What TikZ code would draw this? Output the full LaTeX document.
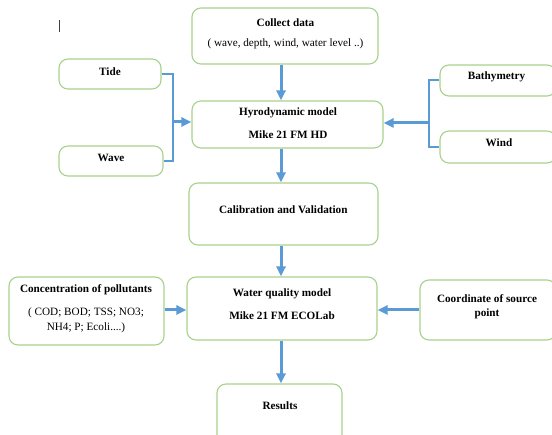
\documentclass[tikz,border=0pt]{standalone}
\usepackage{fontspec}
\setmainfont{Liberation Serif}
\usetikzlibrary{arrows.meta}
\definecolor{boxgreen}{HTML}{A9D18E}
\definecolor{arrowblue}{HTML}{5B9BD5}
\begin{document}
\begin{tikzpicture}[x=1pt,y=-1pt,
  box/.style={draw=boxgreen, line width=1.1pt, rounded corners=9pt, inner sep=0pt},
  lbl/.style={font=\fontsize{11.2}{14.5}\selectfont\bfseries, align=center, inner sep=0pt},
  sub/.style={font=\fontsize{11.2}{15}\selectfont, align=center, inner sep=0pt},
  flow/.style={draw=arrowblue, line width=3pt, -{Triangle[length=10pt,width=9pt]}},
  link/.style={draw=arrowblue, line width=2pt},
]
\clip (0,0) rectangle (552,435);
\fill[white] (0,0) rectangle (552,435);

% boxes
\node[box, minimum width=186pt, minimum height=56pt] (collect) at (285,36) {};
\node[box, minimum width=102pt, minimum height=30pt] (tide) at (110,74) {};
\node[box, minimum width=104pt, minimum height=30pt] (wave) at (111,161) {};
\node[box, minimum width=191pt, minimum height=47pt] (hydro) at (287.5,124.5) {};
\node[box, minimum width=116pt, minimum height=31pt] (bathy) at (498,80.5) {};
\node[box, minimum width=116pt, minimum height=32pt] (wind) at (498,147) {};
\node[box, minimum width=189pt, minimum height=62pt] (calib) at (283.5,214) {};
\node[box, minimum width=155pt, minimum height=68pt] (conc) at (86.5,311) {};
\node[box, minimum width=190pt, minimum height=63pt] (wq) at (282,308.5) {};
\node[box, minimum width=136pt, minimum height=60pt] (coord) at (488,310) {};
\node[box, minimum width=125pt, minimum height=61pt] (results) at (279.5,414.5) {};

% texts
\node[lbl] (tcollect) at (285.5,23) {Collect data};
\node[sub] (scollect) at (285.5,44) {( wave, depth, wind, water level ..)};
\node[lbl] (ttide) at (110,72) {Tide};
\node[lbl] (twave) at (111,158) {Wave};
\node[lbl] (thydro) at (288,113) {Hyrodynamic model};
\node[lbl] (shydro) at (288,135) {Mike 21 FM HD};
\node[lbl] (tbathy) at (496.5,77) {Bathymetry};
\node[lbl] (twind) at (499,143) {Wind};
\node[lbl] (tcalib) at (283.3,210) {Calibration and Validation};
\node[lbl] (tconc) at (86,290) {Concentration of pollutants};
\node[sub] (sconc) at (86,320.5) {( COD; BOD; TSS; NO3;\\NH4; P; Ecoli....)};
\node[lbl] (twq) at (282,294) {Water quality model};
\node[lbl] (swq) at (282,316) {Mike 21 FM ECOLab};
\node[lbl] (tcoord) at (487,307) {Coordinate of source\\point};
\node[lbl] (tresults) at (280,406) {Results};

% connector helpers
\coordinate (ax) at (281,0);
\coordinate (lb) at (173,122);
\coordinate (rb) at (428.5,123);

% main vertical flow
\draw[flow] (collect.south -| ax) -- (hydro.north -| ax);
\draw[flow] (hydro.south -| ax) -- (calib.north -| ax);
\draw[flow] (calib.south -| ax) -- (wq.north -| ax);
\draw[flow] (wq.south -| ax) -- (results.north -| ax);

% left bracket
\draw[link] (tide.east) -| (lb) |- (wave.east);
\draw[flow] (lb) -- (hydro.west |- lb);

% right bracket
\draw[link] (bathy.west) -| (rb) |- (wind.west);
\draw[flow] (rb) -- (hydro.east |- rb);

% side inputs to water quality model
\draw[flow] (conc.east |- 0,310) -- (wq.west |- 0,310);
\draw[flow] (coord.west |- 0,310) -- (wq.east |- 0,310);

% text cursor mark
\draw[line width=0.9pt, draw=black!75] (59.5,20) -- (59.5,32.5);
\end{tikzpicture}
\end{document}
